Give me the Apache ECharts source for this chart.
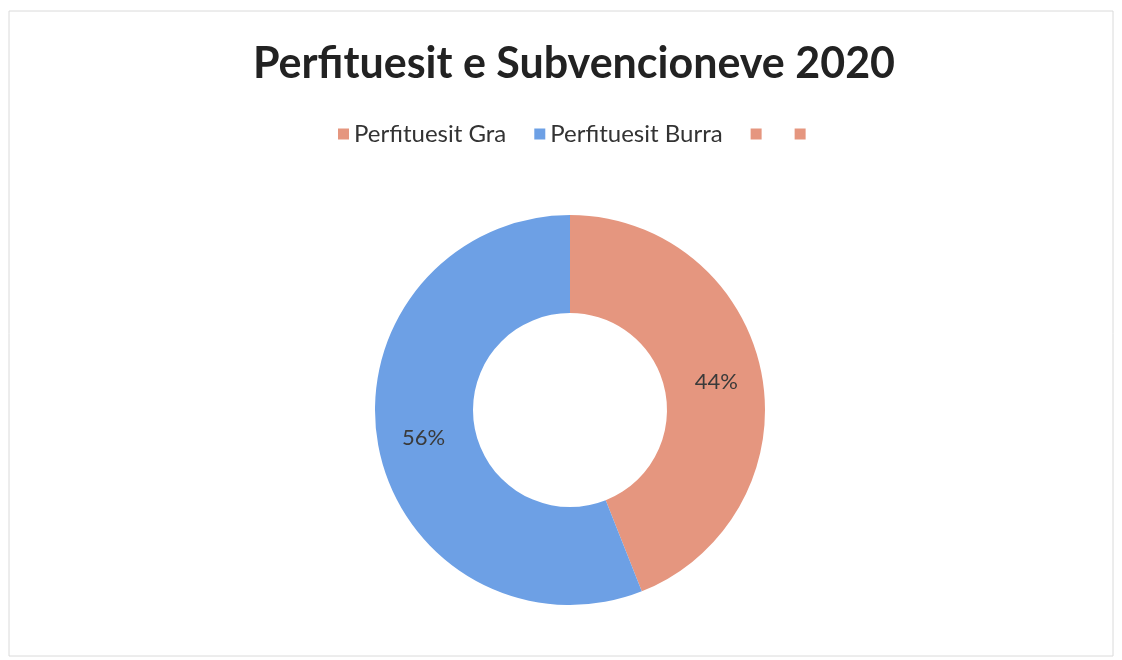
<!DOCTYPE html>
<html><head><meta charset="utf-8">
<script src="https://cdn.jsdelivr.net/npm/echarts@6/dist/echarts.min.js"></script>
<style>html,body{margin:0;padding:0;background:#fff}#c{width:1122px;height:660px}</style>
</head><body><div id="c"></div>
<script>
const titleText = 'Perfituesit e Subvencioneve 2020';
const categories = ['Perfituesit Gra', 'Perfituesit Burra', '\u200b', '\u200b\u200b'];
const values = [44, 56, 0, 0];
const colors = ['#E5967F', '#6DA0E5', '#E5967F', '#E5967F'];

const chart = echarts.init(document.getElementById('c'));
chart.setOption({
  backgroundColor: '#fff',
  graphic: [{type: 'rect', shape: {x: 9, y: 11, width: 1104, height: 645}, style: {fill: 'none', stroke: '#dadada', lineWidth: 1}, silent: true}],
  title: {text: titleText, left: 248, top: 38, textStyle: {fontFamily: 'Lato', fontWeight: 'bold', fontSize: 43, color: '#222'}},
  legend: {
    top: 117, left: 333, itemWidth: 11, itemHeight: 11, itemGap: 28, icon: 'rect',
    data: categories,
    textStyle: {fontFamily: 'Lato', fontSize: 24, color: '#333'}
  },
  series: [{
    type: 'pie', center: [570, 410], radius: [97, 195], startAngle: 90, clockwise: true,
    avoidLabelOverlap: false,
    label: {show: true, position: 'inside', formatter: p => p.value ? p.value + '%' : '', fontFamily: 'Lato', fontSize: 22, color: '#3a3a3a'},
    labelLine: {show: false},
    emphasis: {disabled: true},
    data: categories.map((n, i) => ({name: n, value: values[i], itemStyle: {color: colors[i]}}))
  }]
});
</script></body></html>
